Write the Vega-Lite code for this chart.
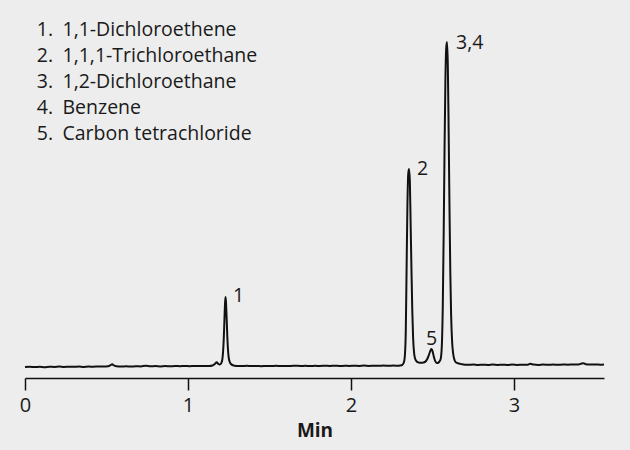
{
  "$schema": "https://vega.github.io/schema/vega-lite/v6.json",
  "autosize": "none",
  "width": 579,
  "height": 358,
  "padding": {"left": 25, "top": 20, "right": 26, "bottom": 72},
  "background": "#ededed",
  "config": {
    "view": {"stroke": null},
    "font": "Open Sans",
    "axis": {"grid": false}
  },
  "datasets": {
    "trace": [
      {"t":0.000,"v":-1.0},{"t":0.030,"v":-0.7},{"t":0.060,"v":-1.1},{"t":0.090,"v":-0.8},{"t":0.120,"v":-1.2},
      {"t":0.150,"v":-0.7},{"t":0.180,"v":-0.9},{"t":0.210,"v":-0.6},{"t":0.240,"v":-1.0},{"t":0.270,"v":-0.7},
      {"t":0.300,"v":-0.8},{"t":0.330,"v":-0.5},{"t":0.360,"v":-0.9},{"t":0.390,"v":-0.6},{"t":0.420,"v":-0.7},
      {"t":0.450,"v":-0.5},{"t":0.480,"v":-0.6},{"t":0.510,"v":-0.3},{"t":0.525,"v":0.8},{"t":0.535,"v":1.8},
      {"t":0.545,"v":0.6},{"t":0.560,"v":-0.2},{"t":0.590,"v":-0.5},{"t":0.620,"v":-0.3},{"t":0.650,"v":-0.6},
      {"t":0.680,"v":-0.2},{"t":0.710,"v":-0.4},{"t":0.740,"v":0.2},{"t":0.770,"v":-0.3},{"t":0.800,"v":-0.1},
      {"t":0.830,"v":-0.4},{"t":0.860,"v":-0.1},{"t":0.890,"v":-0.3},{"t":0.920,"v":0.0},{"t":0.950,"v":-0.2},
      {"t":0.980,"v":0.1},{"t":1.010,"v":-0.2},{"t":1.040,"v":0.0},{"t":1.070,"v":-0.1},{"t":1.100,"v":0.1},
      {"t":1.130,"v":0.0},{"t":1.150,"v":0.5},{"t":1.165,"v":2.0},{"t":1.176,"v":3.8},{"t":1.186,"v":2.0},
      {"t":1.195,"v":1.5},{"t":1.203,"v":2.5},{"t":1.210,"v":6},{"t":1.215,"v":14},{"t":1.219,"v":26},
      {"t":1.223,"v":44},{"t":1.227,"v":62},{"t":1.230,"v":69},{"t":1.233,"v":64},{"t":1.237,"v":48},
      {"t":1.241,"v":30},{"t":1.245,"v":17},{"t":1.250,"v":8},{"t":1.256,"v":4},{"t":1.264,"v":2},
      {"t":1.275,"v":0.8},{"t":1.300,"v":0.1},{"t":1.330,"v":-0.1},{"t":1.360,"v":0.2},{"t":1.390,"v":-0.1},
      {"t":1.420,"v":0.1},{"t":1.450,"v":-0.2},{"t":1.480,"v":0.1},{"t":1.510,"v":0.0},{"t":1.540,"v":0.2},
      {"t":1.570,"v":-0.1},{"t":1.600,"v":0.1},{"t":1.630,"v":0.0},{"t":1.660,"v":0.3},{"t":1.690,"v":0.0},
      {"t":1.720,"v":0.2},{"t":1.750,"v":-0.1},{"t":1.780,"v":0.2},{"t":1.810,"v":0.0},{"t":1.840,"v":0.3},
      {"t":1.870,"v":0.1},{"t":1.900,"v":0.3},{"t":1.930,"v":0.0},{"t":1.960,"v":0.2},{"t":1.990,"v":0.1},
      {"t":2.020,"v":0.3},{"t":2.050,"v":0.1},{"t":2.080,"v":0.4},{"t":2.110,"v":0.1},{"t":2.140,"v":0.3},
      {"t":2.170,"v":0.2},{"t":2.200,"v":0.4},{"t":2.230,"v":0.2},{"t":2.260,"v":0.4},{"t":2.290,"v":0.3},
      {"t":2.300,"v":0.5},{"t":2.315,"v":1.2},{"t":2.325,"v":4},{"t":2.331,"v":12},{"t":2.336,"v":35},
      {"t":2.341,"v":98},{"t":2.346,"v":160},{"t":2.351,"v":192},{"t":2.356,"v":197},{"t":2.361,"v":185},
      {"t":2.366,"v":140},{"t":2.371,"v":95},{"t":2.376,"v":55},{"t":2.381,"v":28},{"t":2.387,"v":13},
      {"t":2.394,"v":7},{"t":2.403,"v":4.5},{"t":2.415,"v":3.5},{"t":2.430,"v":3.2},{"t":2.445,"v":3.5},
      {"t":2.460,"v":5},{"t":2.472,"v":8.5},{"t":2.482,"v":13},{"t":2.489,"v":16},{"t":2.494,"v":17},
      {"t":2.500,"v":15},{"t":2.507,"v":10},{"t":2.515,"v":5.5},{"t":2.524,"v":3.2},{"t":2.532,"v":3},
      {"t":2.540,"v":4},{"t":2.550,"v":7},{"t":2.557,"v":20},{"t":2.563,"v":60},{"t":2.569,"v":140},
      {"t":2.574,"v":220},{"t":2.579,"v":285},{"t":2.584,"v":318},{"t":2.589,"v":324},{"t":2.594,"v":300},
      {"t":2.599,"v":235},{"t":2.604,"v":160},{"t":2.609,"v":95},{"t":2.614,"v":52},{"t":2.620,"v":25},
      {"t":2.627,"v":12},{"t":2.635,"v":6},{"t":2.645,"v":3.5},{"t":2.660,"v":2.5},{"t":2.680,"v":1.8},
      {"t":2.720,"v":1.2},{"t":2.750,"v":1.5},{"t":2.780,"v":1.0},{"t":2.810,"v":1.3},{"t":2.840,"v":1.0},
      {"t":2.870,"v":1.4},{"t":2.900,"v":1.1},{"t":2.930,"v":1.3},{"t":2.960,"v":1.0},{"t":2.990,"v":1.4},
      {"t":3.020,"v":1.1},{"t":3.050,"v":1.3},{"t":3.080,"v":1.2},{"t":3.100,"v":2.2},{"t":3.120,"v":1.4},
      {"t":3.150,"v":1.1},{"t":3.180,"v":1.4},{"t":3.210,"v":1.2},{"t":3.240,"v":1.5},{"t":3.270,"v":1.2},
      {"t":3.300,"v":1.5},{"t":3.330,"v":1.3},{"t":3.360,"v":1.6},{"t":3.390,"v":1.4},{"t":3.410,"v":2.2},
      {"t":3.425,"v":2.8},{"t":3.440,"v":1.8},{"t":3.470,"v":1.4},{"t":3.500,"v":1.6},{"t":3.530,"v":1.3},
      {"t":3.552,"v":1.5}
    ],
    "peaks": [
      {"t":1.276,"v":70,"label":"1"},
      {"t":2.405,"v":197,"label":"2"},
      {"t":2.644,"v":323,"label":"3,4"}
    ],
    "peak5": [
      {"t":2.494,"v":27,"label":"5"}
    ],
    "legend": [
      {"tn":0.172,"tc":0.230,"v":330,"num":"1.","name":"1,1-Dichloroethene"},
      {"tn":0.172,"tc":0.230,"v":304,"num":"2.","name":"1,1,1-Trichloroethane"},
      {"tn":0.172,"tc":0.230,"v":278,"num":"3.","name":"1,2-Dichloroethane"},
      {"tn":0.172,"tc":0.230,"v":252,"num":"4.","name":"Benzene"},
      {"tn":0.172,"tc":0.230,"v":226,"num":"5.","name":"Carbon tetrachloride"}
    ]
  },
  "layer": [
    {
      "data": {"name": "trace"},
      "mark": {"type": "line", "color": "#111111", "strokeWidth": 2, "interpolate": "monotone"},
      "encoding": {
        "x": {
          "field": "t", "type": "quantitative",
          "scale": {"domain": [0, 3.552], "nice": false, "zero": false},
          "axis": {
            "values": [0, 1, 2, 3],
            "format": "d",
            "title": "Min",
            "labelFlush": false,
            "labelOverlap": false,
            "domainColor": "#111111",
            "domainWidth": 1.5,
            "tickColor": "#111111",
            "tickWidth": 1.5,
            "tickSize": 12,
            "labelFontSize": 20,
            "labelColor": "#1a1a1a",
            "labelPadding": 5,
            "titleFontSize": 19,
            "titleFontWeight": "bold",
            "titleColor": "#1a1a1a",
            "titlePadding": 6
          }
        },
        "y": {
          "field": "v", "type": "quantitative",
          "scale": {"domain": [-12, 346], "nice": false, "zero": false},
          "axis": null
        }
      }
    },
    {
      "data": {"name": "peaks"},
      "mark": {"type": "text", "align": "left", "baseline": "middle", "fontSize": 19.5, "color": "#1a1a1a"},
      "encoding": {
        "x": {"field": "t", "type": "quantitative"},
        "y": {"field": "v", "type": "quantitative"},
        "text": {"field": "label"}
      }
    },
    {
      "data": {"name": "peak5"},
      "mark": {"type": "text", "align": "center", "baseline": "middle", "fontSize": 19.5, "color": "#1a1a1a"},
      "encoding": {
        "x": {"field": "t", "type": "quantitative"},
        "y": {"field": "v", "type": "quantitative"},
        "text": {"field": "label"}
      }
    },
    {
      "data": {"name": "legend"},
      "mark": {"type": "text", "align": "right", "baseline": "alphabetic", "fontSize": 19.5, "color": "#1a1a1a"},
      "encoding": {
        "x": {"field": "tn", "type": "quantitative"},
        "y": {"field": "v", "type": "quantitative"},
        "text": {"field": "num"}
      }
    },
    {
      "data": {"name": "legend"},
      "mark": {"type": "text", "align": "left", "baseline": "alphabetic", "fontSize": 19.5, "color": "#1a1a1a"},
      "encoding": {
        "x": {"field": "tc", "type": "quantitative"},
        "y": {"field": "v", "type": "quantitative"},
        "text": {"field": "name"}
      }
    }
  ]
}
